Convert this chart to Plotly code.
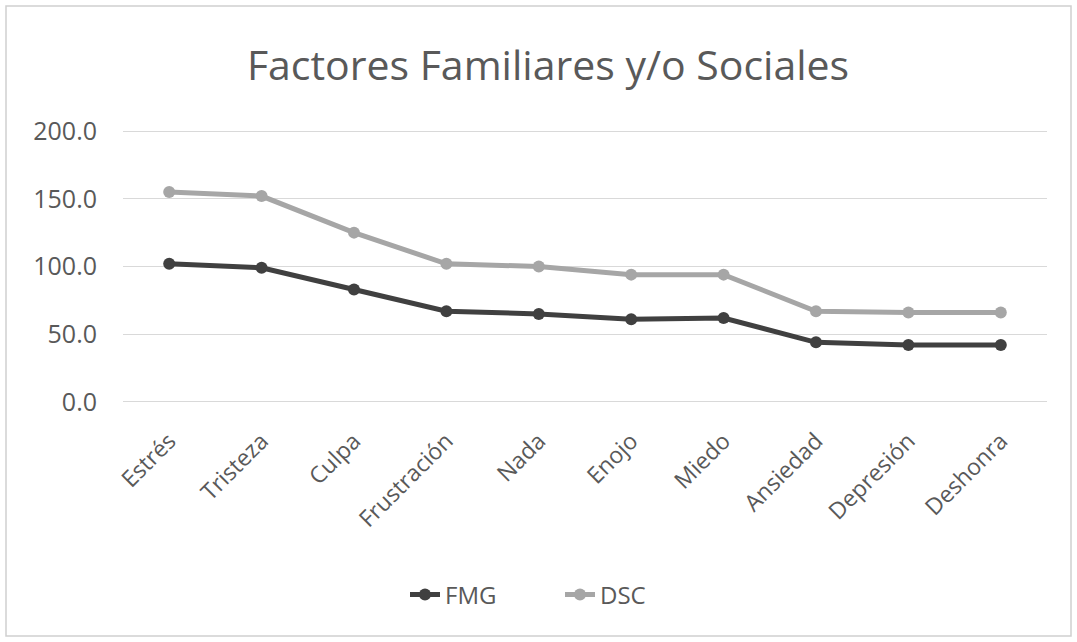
import plotly.graph_objects as go

categories = ["Estrés", "Tristeza", "Culpa", "Frustración", "Nada", "Enojo", "Miedo", "Ansiedad", "Depresión", "Deshonra"]
fmg = [102, 99, 83, 67, 65, 61, 62, 44, 42, 42]
dsc = [155, 152, 125, 102, 100, 94, 94, 67, 66, 66]
y_ticks = [0, 50, 100, 150, 200]

W, H = 1077, 642
unit = (402 - 131) / 200.0  # px per unit
pad = 1.5
L, R = 123, 30
T = 131 - pad * unit
B = (H - 402) - pad * unit
pw = W - L - R
ph = H - T - B

fig = go.Figure()
fig.add_trace(go.Scatter(x=categories, y=fmg, name="FMG", mode="lines+markers",
                         line=dict(color="#404040", width=5),
                         marker=dict(color="#404040", size=12)))
fig.add_trace(go.Scatter(x=categories, y=dsc, name="DSC", mode="lines+markers",
                         line=dict(color="#a6a6a6", width=5),
                         marker=dict(color="#a6a6a6", size=12)))

def px_x(p):
    return (p - L) / pw

def px_y(p):
    return (H - B - p) / ph

fig.add_shape(type="rect", xref="paper", yref="paper",
              x0=px_x(6), x1=px_x(1071), y0=px_y(636), y1=px_y(6),
              line=dict(color="#d0d0d0", width=1.5), fillcolor="rgba(0,0,0,0)", layer="below")

fig.update_layout(
    width=W, height=H,
    margin=dict(l=L, r=R, t=T, b=B),
    paper_bgcolor="white", plot_bgcolor="white",
    font=dict(family="Open Sans", color="#595959"),
    title=dict(text="Factores Familiares y/o Sociales", x=548 / W, xanchor="center",
               y=1 - 66 / H, yanchor="middle",
               font=dict(size=41, color="#595959", family="Open Sans")),
    xaxis=dict(type="category", range=[-0.5, len(categories) - 0.5], tickangle=-45,
               showgrid=False, showline=False, zeroline=False,
               tickfont=dict(size=23, color="#595959"), ticks="", ticklabelstandoff=18),
    yaxis=dict(range=[-pad, 200 + pad], tickvals=y_ticks, ticktext=[f"{v:.1f}" for v in y_ticks],
               showgrid=True, gridcolor="#d9d9d9", gridwidth=1.3, zeroline=False,
               showline=False, ticks="", ticklen=0, ticklabelstandoff=25,
               tickfont=dict(size=25, color="#595959")),
    legend=dict(orientation="h", x=px_x(405), xanchor="left", y=px_y(595), yanchor="middle",
                font=dict(size=24, color="#595959"), entrywidth=110, entrywidthmode="pixels"),
    showlegend=True,
)

fig.write_html("out.html")
